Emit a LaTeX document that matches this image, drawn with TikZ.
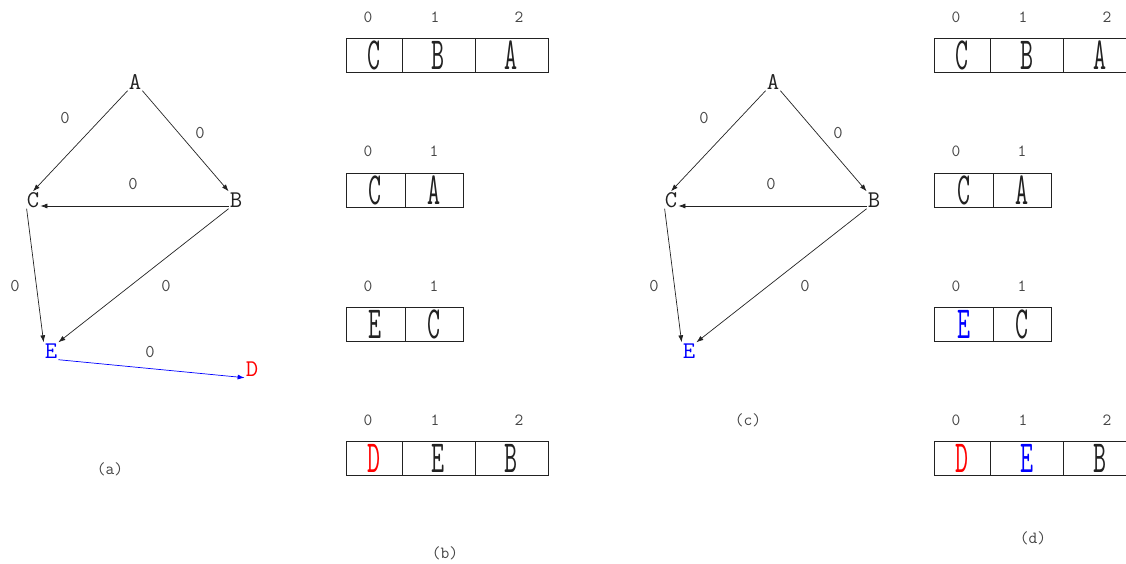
\documentclass[tikz,border=0pt]{standalone}
\usepackage{fontspec}
\usetikzlibrary{arrows.meta,calc}
\definecolor{ink}{HTML}{222222}
\definecolor{lab}{HTML}{444444}
\definecolor{myblue}{RGB}{0,0,255}
\definecolor{myred}{RGB}{255,0,0}
\newcommand\narrowch[1]{\scalebox{0.55}[1]{#1}}
\begin{document}
\begin{tikzpicture}[x=1pt,y=-1pt,
 v/.style={font=\ttfamily\fontsize{24}{24}\selectfont, text=ink, inner sep=1pt, text height=15pt, text depth=0pt},
 el/.style={font=\ttfamily\fontsize{18}{18}\selectfont, text=lab},
 idx/.style={font=\ttfamily\fontsize{17}{17}\selectfont, text=lab},
 captxt/.style={font=\ttfamily\fontsize{17}{17}\selectfont, text=lab},
 e/.style={draw=ink, line width=0.7pt, -{Latex[length=7pt,width=5pt]}},
 cell/.style={draw=ink, line width=0.9pt, minimum height=34pt, inner sep=0pt, font=\ttfamily\fontsize{46}{46}\selectfont, text=ink},
]
\useasboundingbox (0,0) rectangle (1126,564);

% ---------- graph (a)
\node[v] (aA) at (135,82) {A};
\node[v] (aC) at (33,200) {C};
\node[v] (aB) at (236,200) {B};
\node[v,text=myblue] (aE) at (51,351) {E};
\node[v,text=myred] (aD) at (252,369) {D};
\draw[e] (aA.south west) -- (aC.north);
\draw[e] (aA.south east) -- (aB.north west);
\draw[e] ($(aB.west)+(0,6)$) -- ($(aC.east)+(0,6)$);
\draw[e] (aB.south west) -- (aE.north east);
\draw[e] ($(aC.south west)+(1,0)$) -- (aE.north west);
\draw[e,draw=myblue,-{Latex[length=7pt,width=5pt]}] (aE.south east) -- (aD.south west);
\node[el] (aLAC) at (65,118) {0};
\node[el] (aLAB) at (200,133) {0};
\node[el] (aLBC) at (133,184) {0};
\node[el] (aLCE) at (15,286) {0};
\node[el] (aLBE) at (166,286) {0};
\node[el] (aLED) at (150,352) {0};
\node[captxt] (capa) at (110,469) {(a)};

% ---------- arrays (b)
\node[idx] (b1i0) at (368,17) {0};
\node[idx] (b1i1) at (435,17) {1};
\node[idx] (b1i2) at (519,17) {2};
\node[cell,minimum width=56pt] (b1c0) at (374,55) {\narrowch{C}};
\node[cell,minimum width=73pt] (b1c1) at (438.5,55) {\narrowch{B}};
\node[cell,minimum width=73pt] (b1c2) at (511.5,55) {\narrowch{A}};

\node[idx] (b2i0) at (368,151) {0};
\node[idx] (b2i1) at (434,151) {1};
\node[cell,minimum width=59pt] (b2c0) at (375.5,190) {\narrowch{C}};
\node[cell,minimum width=58pt] (b2c1) at (434,190) {\narrowch{A}};

\node[idx] (b3i0) at (368,286) {0};
\node[idx] (b3i1) at (434,286) {1};
\node[cell,minimum width=59pt] (b3c0) at (375.5,324) {\narrowch{E}};
\node[cell,minimum width=58pt] (b3c1) at (434,324) {\narrowch{C}};

\node[idx] (b4i0) at (368,420) {0};
\node[idx] (b4i1) at (435,420) {1};
\node[idx] (b4i2) at (519,420) {2};
\node[cell,minimum width=56pt,text=myred] (b4c0) at (374,458) {\narrowch{D}};
\node[cell,minimum width=73pt] (b4c1) at (438.5,458) {\narrowch{E}};
\node[cell,minimum width=73pt] (b4c2) at (511.5,458) {\narrowch{B}};
\node[captxt] (capb) at (445,553) {(b)};

% ---------- graph (c)
\node[v] (cA) at (773,82) {A};
\node[v] (cC) at (671,200) {C};
\node[v] (cB) at (874,200) {B};
\node[v,text=myblue] (cE) at (689,351) {E};
\draw[e] (cA.south west) -- (cC.north);
\draw[e] (cA.south east) -- (cB.north west);
\draw[e] ($(cB.west)+(0,6)$) -- ($(cC.east)+(0,6)$);
\draw[e] (cB.south west) -- (cE.north east);
\draw[e] ($(cC.south west)+(1,0)$) -- (cE.north west);
\node[el] (cLAC) at (704,118) {0};
\node[el] (cLAB) at (838,133) {0};
\node[el] (cLBC) at (771,184) {0};
\node[el] (cLCE) at (654,286) {0};
\node[el] (cLBE) at (805,286) {0};
\node[captxt] (capc) at (748,420) {(c)};

% ---------- arrays (d)
\node[idx] (d1i0) at (956,17) {0};
\node[idx] (d1i1) at (1023,17) {1};
\node[idx] (d1i2) at (1107,17) {2};
\node[cell,minimum width=56pt] (d1c0) at (962,55) {\narrowch{C}};
\node[cell,minimum width=73pt] (d1c1) at (1026.5,55) {\narrowch{B}};
\node[cell,minimum width=73pt] (d1c2) at (1099.5,55) {\narrowch{A}};

\node[idx] (d2i0) at (956,151) {0};
\node[idx] (d2i1) at (1022,151) {1};
\node[cell,minimum width=59pt] (d2c0) at (963.5,190) {\narrowch{C}};
\node[cell,minimum width=58pt] (d2c1) at (1022,190) {\narrowch{A}};

\node[idx] (d3i0) at (956,286) {0};
\node[idx] (d3i1) at (1022,286) {1};
\node[cell,minimum width=59pt,text=myblue] (d3c0) at (963.5,324) {\narrowch{E}};
\node[cell,minimum width=58pt] (d3c1) at (1022,324) {\narrowch{C}};

\node[idx] (d4i0) at (956,420) {0};
\node[idx] (d4i1) at (1023,420) {1};
\node[idx] (d4i2) at (1107,420) {2};
\node[cell,minimum width=56pt,text=myred] (d4c0) at (962,458) {\narrowch{D}};
\node[cell,minimum width=73pt,text=myblue] (d4c1) at (1026.5,458) {\narrowch{E}};
\node[cell,minimum width=73pt] (d4c2) at (1099.5,458) {\narrowch{B}};
\node[captxt] (capd) at (1033,538) {(d)};
\end{tikzpicture}
\end{document}
